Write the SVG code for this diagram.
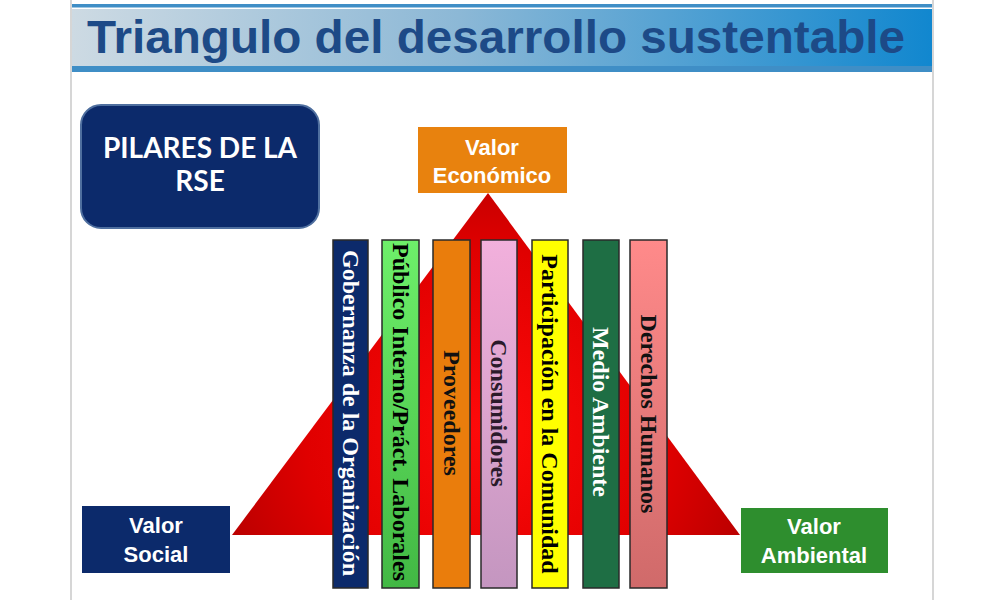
<svg xmlns="http://www.w3.org/2000/svg" width="1000" height="600" viewBox="0 0 1000 600">
<defs>
<linearGradient id="band" x1="0" y1="0" x2="1" y2="0">
<stop offset="0" stop-color="#cddae3"/>
<stop offset="0.45" stop-color="#8cb8d6"/>
<stop offset="1" stop-color="#1187cf"/>
</linearGradient>
<radialGradient id="tri" gradientUnits="userSpaceOnUse" cx="486" cy="430" r="300">
<stop offset="0" stop-color="#ff0a0a"/>
<stop offset="0.6" stop-color="#e00000"/>
<stop offset="1" stop-color="#b00000"/>
</radialGradient>
<linearGradient id="g2" x1="0" y1="0" x2="0" y2="1"><stop offset="0" stop-color="#6ef06a"/><stop offset="1" stop-color="#42b844"/></linearGradient>
<linearGradient id="g4" x1="0" y1="0" x2="0" y2="1"><stop offset="0" stop-color="#f2b0dc"/><stop offset="1" stop-color="#c496c0"/></linearGradient>
<linearGradient id="g7" x1="0" y1="0" x2="0" y2="1"><stop offset="0" stop-color="#ff8a8a"/><stop offset="1" stop-color="#d06a6a"/></linearGradient>
<style>
.val{font-family:"Liberation Sans",Arial,sans-serif;font-weight:bold;font-size:22px;fill:#fff;text-anchor:middle}
.pil{stroke:#2a2a2a;stroke-width:1.5}
.pt{font-family:"Liberation Serif","Times New Roman",serif;font-weight:bold;font-size:24px;text-anchor:middle;dominant-baseline:central}
.ps{font-family:Lato,"Open Sans",sans-serif;font-weight:bold;font-size:28px;fill:#fff;text-anchor:middle}
</style>
</defs>
<rect width="1000" height="600" fill="#fff"/>
<line x1="71" y1="0" x2="71" y2="600" stroke="#d6d6d6" stroke-width="2"/>
<line x1="933" y1="0" x2="933" y2="600" stroke="#d6d6d6" stroke-width="2"/>

<g id="title">
<rect x="72" y="4" width="860" height="3.5" fill="#3f8ec6"/>
<rect x="72" y="9" width="860" height="57" fill="url(#band)"/>
<rect x="72" y="66" width="860" height="6" fill="#3f8ec6"/>
<text x="87" y="53" font-family="Liberation Sans, Arial, sans-serif" font-weight="bold" font-size="46" fill="#1d4a87" textLength="818" lengthAdjust="spacingAndGlyphs">Triangulo del desarrollo sustentable</text>
</g>

<g id="pilares">
<rect x="81" y="105" width="238" height="123" rx="20" fill="#0c2a6b" stroke="#4f6f9f" stroke-width="2"/>
<text class="ps" x="200" y="158">PILARES DE LA</text>
<text class="ps" x="200" y="191">RSE</text>
</g>

<g id="triangle">
<polygon points="488,193 232,535 740,535" fill="url(#tri)"/>
</g>

<g id="valor-economico">
<rect x="418" y="127" width="149" height="66" fill="#e8820e"/>
<text class="val" x="492" y="155">Valor</text>
<text class="val" x="492" y="183">Económico</text>
</g>

<g id="valor-social">
<rect x="82" y="506" width="148" height="67" fill="#0c2a6b"/>
<text class="val" x="156" y="533">Valor</text>
<text class="val" x="156" y="562">Social</text>
</g>

<g id="valor-ambiental">
<rect x="741" y="508" width="147" height="65" fill="#2e8e2e"/>
<text class="val" x="814" y="534">Valor</text>
<text class="val" x="814" y="563">Ambiental</text>
</g>

<g id="p1">
<rect class="pil" x="333" y="240" width="35" height="348" fill="#0c2a6b"/>
<text class="pt" transform="translate(350.5,413) rotate(90)" fill="#fff">Gobernanza de la Organización</text>
</g>
<g id="p2">
<rect class="pil" x="382" y="240" width="37" height="348" fill="url(#g2)"/>
<text class="pt" transform="translate(400.5,412) rotate(90)" fill="#000">Público Interno/Práct. Laborales</text>
</g>
<g id="p3">
<rect class="pil" x="433" y="240" width="37" height="348" fill="#ea7d0c"/>
<text class="pt" transform="translate(451.5,413) rotate(90)" fill="#111">Proveedores</text>
</g>
<g id="p4">
<rect class="pil" x="481" y="240" width="36" height="348" fill="url(#g4)"/>
<text class="pt" transform="translate(499,413) rotate(90)" fill="#2a1a2a">Consumidores</text>
</g>
<g id="p5">
<rect class="pil" x="532" y="240" width="36" height="348" fill="#ffff00"/>
<text class="pt" transform="translate(550,414) rotate(90)" fill="#000">Participación en la Comunidad</text>
</g>
<g id="p6">
<rect class="pil" x="583" y="240" width="36" height="348" fill="#1e6e44"/>
<text class="pt" transform="translate(601,412) rotate(90)" fill="#fff">Medio Ambiente</text>
</g>
<g id="p7">
<rect class="pil" x="630" y="240" width="37" height="348" fill="url(#g7)"/>
<text class="pt" transform="translate(648.5,414) rotate(90)" fill="#111">Derechos Humanos</text>
</g>
<g id="connectors"></g>
</svg>
